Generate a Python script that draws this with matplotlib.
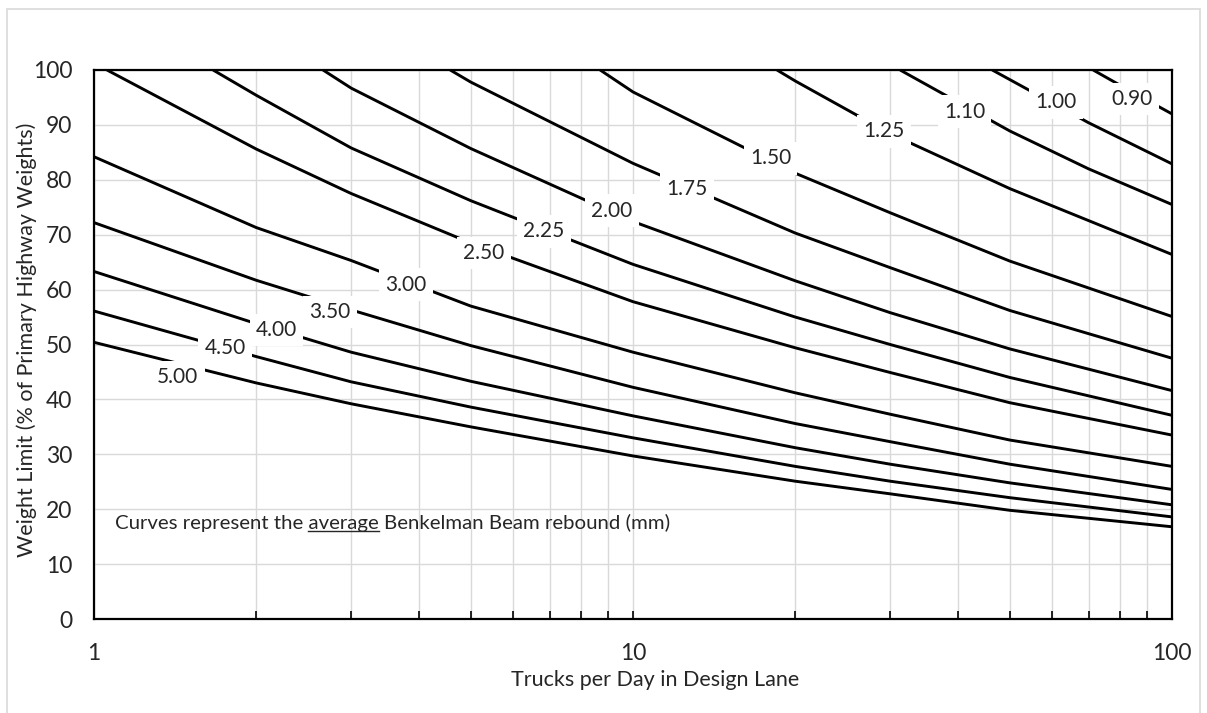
import matplotlib
matplotlib.use('Agg')
import matplotlib.pyplot as plt
import matplotlib.ticker as mticker
from matplotlib.patches import Rectangle
from matplotlib.lines import Line2D

plt.rcParams['font.family'] = ['Lato', 'DejaVu Sans']

# curves of average Benkelman Beam rebound (mm)
x_500 = [1, 2, 3, 5, 10, 20, 30, 50, 100]
y_500 = [50.4, 43.0, 39.2, 35.0, 29.7, 25.1, 22.8, 19.8, 16.8]
x_450 = [1, 2, 3, 5, 10, 20, 30, 50, 100]
y_450 = [56.1, 47.8, 43.2, 38.6, 33.0, 27.8, 25.1, 22.1, 18.6]
x_400 = [1, 2, 3, 5, 10, 20, 30, 50, 100]
y_400 = [63.3, 53.8, 48.6, 43.3, 37.0, 31.2, 28.2, 24.8, 20.8]
x_350 = [1, 2, 3, 5, 10, 20, 30, 50, 100]
y_350 = [72.2, 61.7, 56.3, 49.8, 42.2, 35.6, 32.3, 28.2, 23.6]
x_300 = [1, 2, 3, 5, 10, 20, 30, 50, 100]
y_300 = [84.2, 71.3, 65.3, 57.0, 48.6, 41.2, 37.3, 32.6, 27.8]
x_250 = [1.057, 2, 3, 5, 10, 20, 30, 50, 100]
y_250 = [100, 85.6, 77.5, 68.5, 57.8, 49.4, 44.9, 39.4, 33.5]
x_225 = [1.663, 2, 3, 5, 10, 20, 30, 50, 100]
y_225 = [100, 95.4, 85.8, 76.2, 64.6, 55.0, 50.0, 44.0, 37.1]
x_200 = [2.66, 3, 5, 10, 20, 30, 50, 100]
y_200 = [100, 96.7, 85.7, 72.4, 61.6, 55.8, 49.2, 41.6]
x_175 = [4.58, 5, 10, 20, 30, 50, 100]
y_175 = [100, 97.8, 83.0, 70.3, 64.0, 56.2, 47.5]
x_150 = [8.69, 10, 20, 30, 50, 100]
y_150 = [100, 96.0, 81.2, 74.0, 65.2, 55.1]
x_125 = [18.5, 20, 30, 50, 100]
y_125 = [100, 98.0, 88.4, 78.4, 66.4]
x_110 = [31.3, 50, 70, 100]
y_110 = [100, 88.9, 82.0, 75.5]
x_100 = [46.4, 70, 100]
y_100 = [100, 90.4, 82.9]
x_090 = [71.4, 85, 100]
y_090 = [100, 95.8, 92.0]

labels = ['5.00', '4.50', '4.00', '3.50', '3.00', '2.50', '2.25',
          '2.00', '1.75', '1.50', '1.25', '1.10', '1.00', '0.90']
xs = [x_500, x_450, x_400, x_350, x_300, x_250, x_225,
      x_200, x_175, x_150, x_125, x_110, x_100, x_090]
ys = [y_500, y_450, y_400, y_350, y_300, y_250, y_225,
      y_200, y_175, y_150, y_125, y_110, y_100, y_090]

# where the inline labels sit (data coords)
label_pos = [(1.43, 44.0), (1.75, 49.4), (2.18, 52.6), (2.74, 55.9),
             (3.79, 60.9), (5.29, 66.7), (6.83, 70.6), (9.14, 74.4),
             (12.6, 78.3), (18.0, 83.9), (29.2, 88.8), (41.2, 92.4),
             (61.0, 94.1), (84.2, 94.7)]

W, H = 1207, 713
fig = plt.figure(figsize=(W / 100, H / 100), dpi=100)
ax = fig.add_axes([94 / W, 1 - 619 / H, 1078 / W, 549 / H])

# light frame round the chart area
fig.add_artist(Rectangle((7 / W, -0.01), 1193 / W, 1 - 9 / H + 0.01,
                         transform=fig.transFigure, fill=False,
                         edgecolor='#d9d9d9', lw=1.2))

for lab, x, y, (lx, ly) in zip(labels, xs, ys, label_pos):
    ax.plot(x, y, color='black', lw=2.1, zorder=3, solid_capstyle='butt')
    ax.text(lx, ly, lab, ha='center', va='center', fontsize=15,
            color='#262626', zorder=4,
            bbox=dict(boxstyle='square,pad=0.3', fc='white', ec='none'))

ax.set_xscale('log')
ax.set_xlim(1, 100)
ax.set_ylim(0, 100)
ax.set_yticks(range(0, 101, 10))
ax.xaxis.set_major_locator(mticker.FixedLocator([1, 10, 100]))
ax.xaxis.set_major_formatter(mticker.FixedFormatter(['1', '10', '100']))
ax.xaxis.set_minor_locator(mticker.LogLocator(base=10, subs=range(2, 10)))
ax.xaxis.set_minor_formatter(mticker.NullFormatter())

ax.grid(True, which='both', axis='x', color='#d9d9d9', lw=1.0, zorder=0)
ax.grid(True, which='major', axis='y', color='#d9d9d9', lw=1.0, zorder=0)
ax.set_axisbelow(True)

ax.tick_params(axis='x', which='both', direction='in', length=6, width=1.2,
               color='black', pad=17, labelsize=16.5, labelcolor='#262626')
ax.tick_params(axis='y', length=0, pad=15.5, labelsize=16.5,
               labelcolor='#262626')
for s in ax.spines.values():
    s.set_color('black')
    s.set_linewidth(1.6)

fig.text(655 / W, 1 - 680 / H, 'Trucks per Day in Design Lane', fontsize=15.5,
         color='#262626', ha='center', va='center')
fig.text(27 / W, 1 - 340 / H, 'Weight Limit (% of Primary Highway Weights)',
         fontsize=15.5, color='#262626', ha='center', va='center', rotation=90)

# note with the word "average" underlined
note_pre = 'Curves represent the '
note_word = 'average'
note_post = ' Benkelman Beam rebound (mm)'
note_size = 14.7
t = ax.text(115 / W, 1 - 523 / H, note_pre + note_word + note_post,
            transform=fig.transFigure, fontsize=note_size,
            color='#262626', va='center', ha='left', zorder=4)
fig.canvas.draw()
r = fig.canvas.get_renderer()
full = t.get_window_extent(r)
tmp = ax.text(0, 0, note_pre + note_word, fontsize=note_size)
w_to_end = tmp.get_window_extent(r).width
tmp.set_text(note_word)
w_word = tmp.get_window_extent(r).width
tmp.remove()
x1 = full.x0 + w_to_end
x0 = x1 - w_word
uy = full.y0 + 1
inv = fig.transFigure.inverted()
(fx0, fy), (fx1, _) = inv.transform([(x0, uy), (x1, uy)])
fig.add_artist(Line2D([fx0, fx1], [fy, fy], transform=fig.transFigure,
                      color='#262626', lw=1.0))

fig.savefig('out.png', dpi=100)
